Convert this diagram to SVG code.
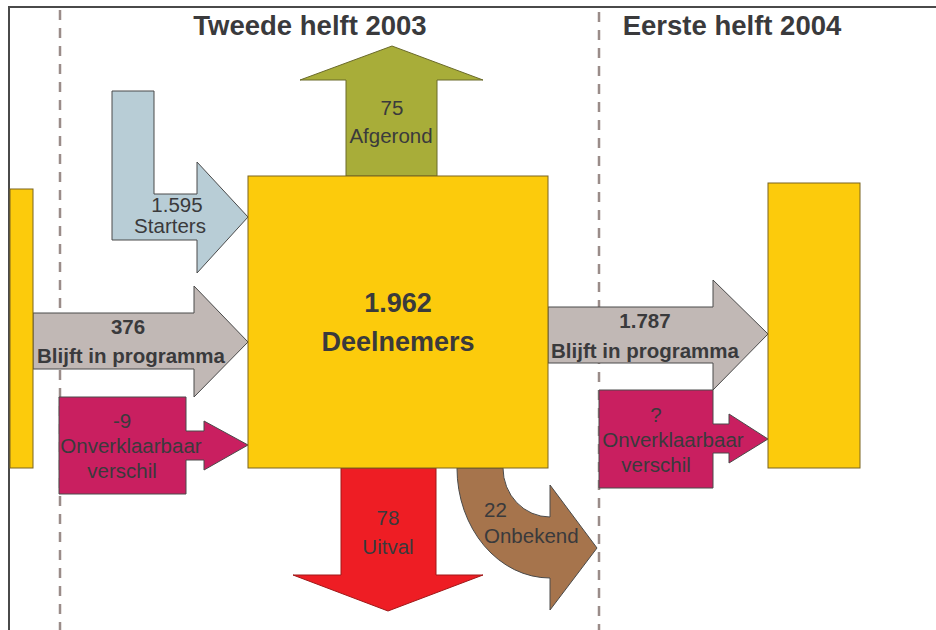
<svg xmlns="http://www.w3.org/2000/svg" width="936" height="630" viewBox="0 0 936 630">
<style>
.shape{stroke:#4a4a4a;stroke-width:1;stroke-linejoin:miter}
.yellow{fill:#fccb0c;stroke:#7a6520}
.blue{fill:#b8cdd6}
.olive{fill:#a8ad39;stroke:#6a6a2a}
.gray{fill:#c1b8b5}
.mag{fill:#c91f60}
.red{fill:#ee1d24;stroke:#a01818}
.brown{fill:#a6744c}
text{font-family:"Liberation Sans",Arial,sans-serif;fill:#3a3a3c;text-anchor:middle}
.lbl{font-size:20.5px}
.b{font-weight:bold}
.title{font-size:27.5px;font-weight:bold}
.big{font-size:27px;font-weight:bold}
.dash{stroke:#9a8c89;stroke-width:2.5;stroke-dasharray:10 8;fill:none}
</style>
<g id="frame">
<path d="M9,630 V7 H936" fill="none" stroke="#4a4a4a" stroke-width="2"/>
<line class="dash" x1="60" y1="10" x2="60" y2="630"/>
<line class="dash" x1="599" y1="12" x2="599" y2="630"/>
</g>
<g id="titles">
<text class="title" x="310" y="35">Tweede helft 2003</text>
<text class="title" x="732" y="35">Eerste helft 2004</text>
</g>
<g id="connectors">
<g id="starters">
<polygon class="shape blue" points="112,91 154,91 154,194 197,194 197,162 248,217 197,273 197,240 112,240"/>
<text class="lbl" x="177" y="212">1.595</text>
<text class="lbl" x="170" y="233">Starters</text>
</g>
<g id="afgerond">
<polygon class="shape olive" points="346,176 346,80 300,80 392,46 483,80 437,80 437,176"/>
<text class="lbl" x="392" y="115">75</text>
<text class="lbl" x="391" y="143">Afgerond</text>
</g>
<g id="blijft-in">
<polygon class="shape gray" points="33,313 194,313 194,286 248,342 194,397 194,369 33,369"/>
<text class="lbl b" x="128" y="334">376</text>
<text class="lbl b" x="131" y="363">Blijft in programma</text>
</g>
<g id="onverklaarbaar-in">
<polygon class="shape mag" points="59,397 186,397 186,431 204,431 204,421 248,445 204,470 204,460 186,460 186,494 59,494"/>
<text class="lbl" x="122" y="428">-9</text>
<text class="lbl" x="131" y="453">Onverklaarbaar</text>
<text class="lbl" x="122" y="478">verschil</text>
</g>
<g id="uitval">
<polygon class="shape red" points="341,468 436,468 436,575 483,575 388,611 293,575 341,575"/>
<text class="lbl" x="388" y="525">78</text>
<text class="lbl" x="388" y="554">Uitval</text>
</g>
<g id="onbekend">
<path class="shape brown" d="M457,468 L503,468 A47,49 0 0 0 550,517 L550,485 L597,548 L550,610 L550,578 A93,110 0 0 1 457,468 Z"/>
<text class="lbl" x="484" y="517" style="text-anchor:start">22</text>
<text class="lbl" x="484" y="543" style="text-anchor:start">Onbekend</text>
</g>
<g id="blijft-out">
<polygon class="shape gray" points="548,307 713,307 713,280 768,334 713,390 713,363 548,363"/>
<text class="lbl b" x="645" y="328">1.787</text>
<text class="lbl b" x="645" y="358">Blijft in programma</text>
</g>
<g id="onverklaarbaar-out">
<polygon class="shape mag" points="599,390 713,390 713,424 729,424 729,414 768,439 729,463 729,453 713,453 713,488 599,488"/>
<text class="lbl" x="656" y="422">?</text>
<text class="lbl" x="673" y="447">Onverklaarbaar</text>
<text class="lbl" x="656" y="472">verschil</text>
</g>
</g>
<g id="prev">
<rect class="shape yellow" x="10" y="189" width="23" height="279"/>
</g>
<g id="deelnemers">
<rect class="shape yellow" x="248" y="176" width="300" height="292"/>
<text class="big" x="398" y="312">1.962</text>
<text class="big" x="398" y="351">Deelnemers</text>
</g>
<g id="next">
<rect class="shape yellow" x="768" y="183" width="92" height="285"/>
</g>
</svg>
